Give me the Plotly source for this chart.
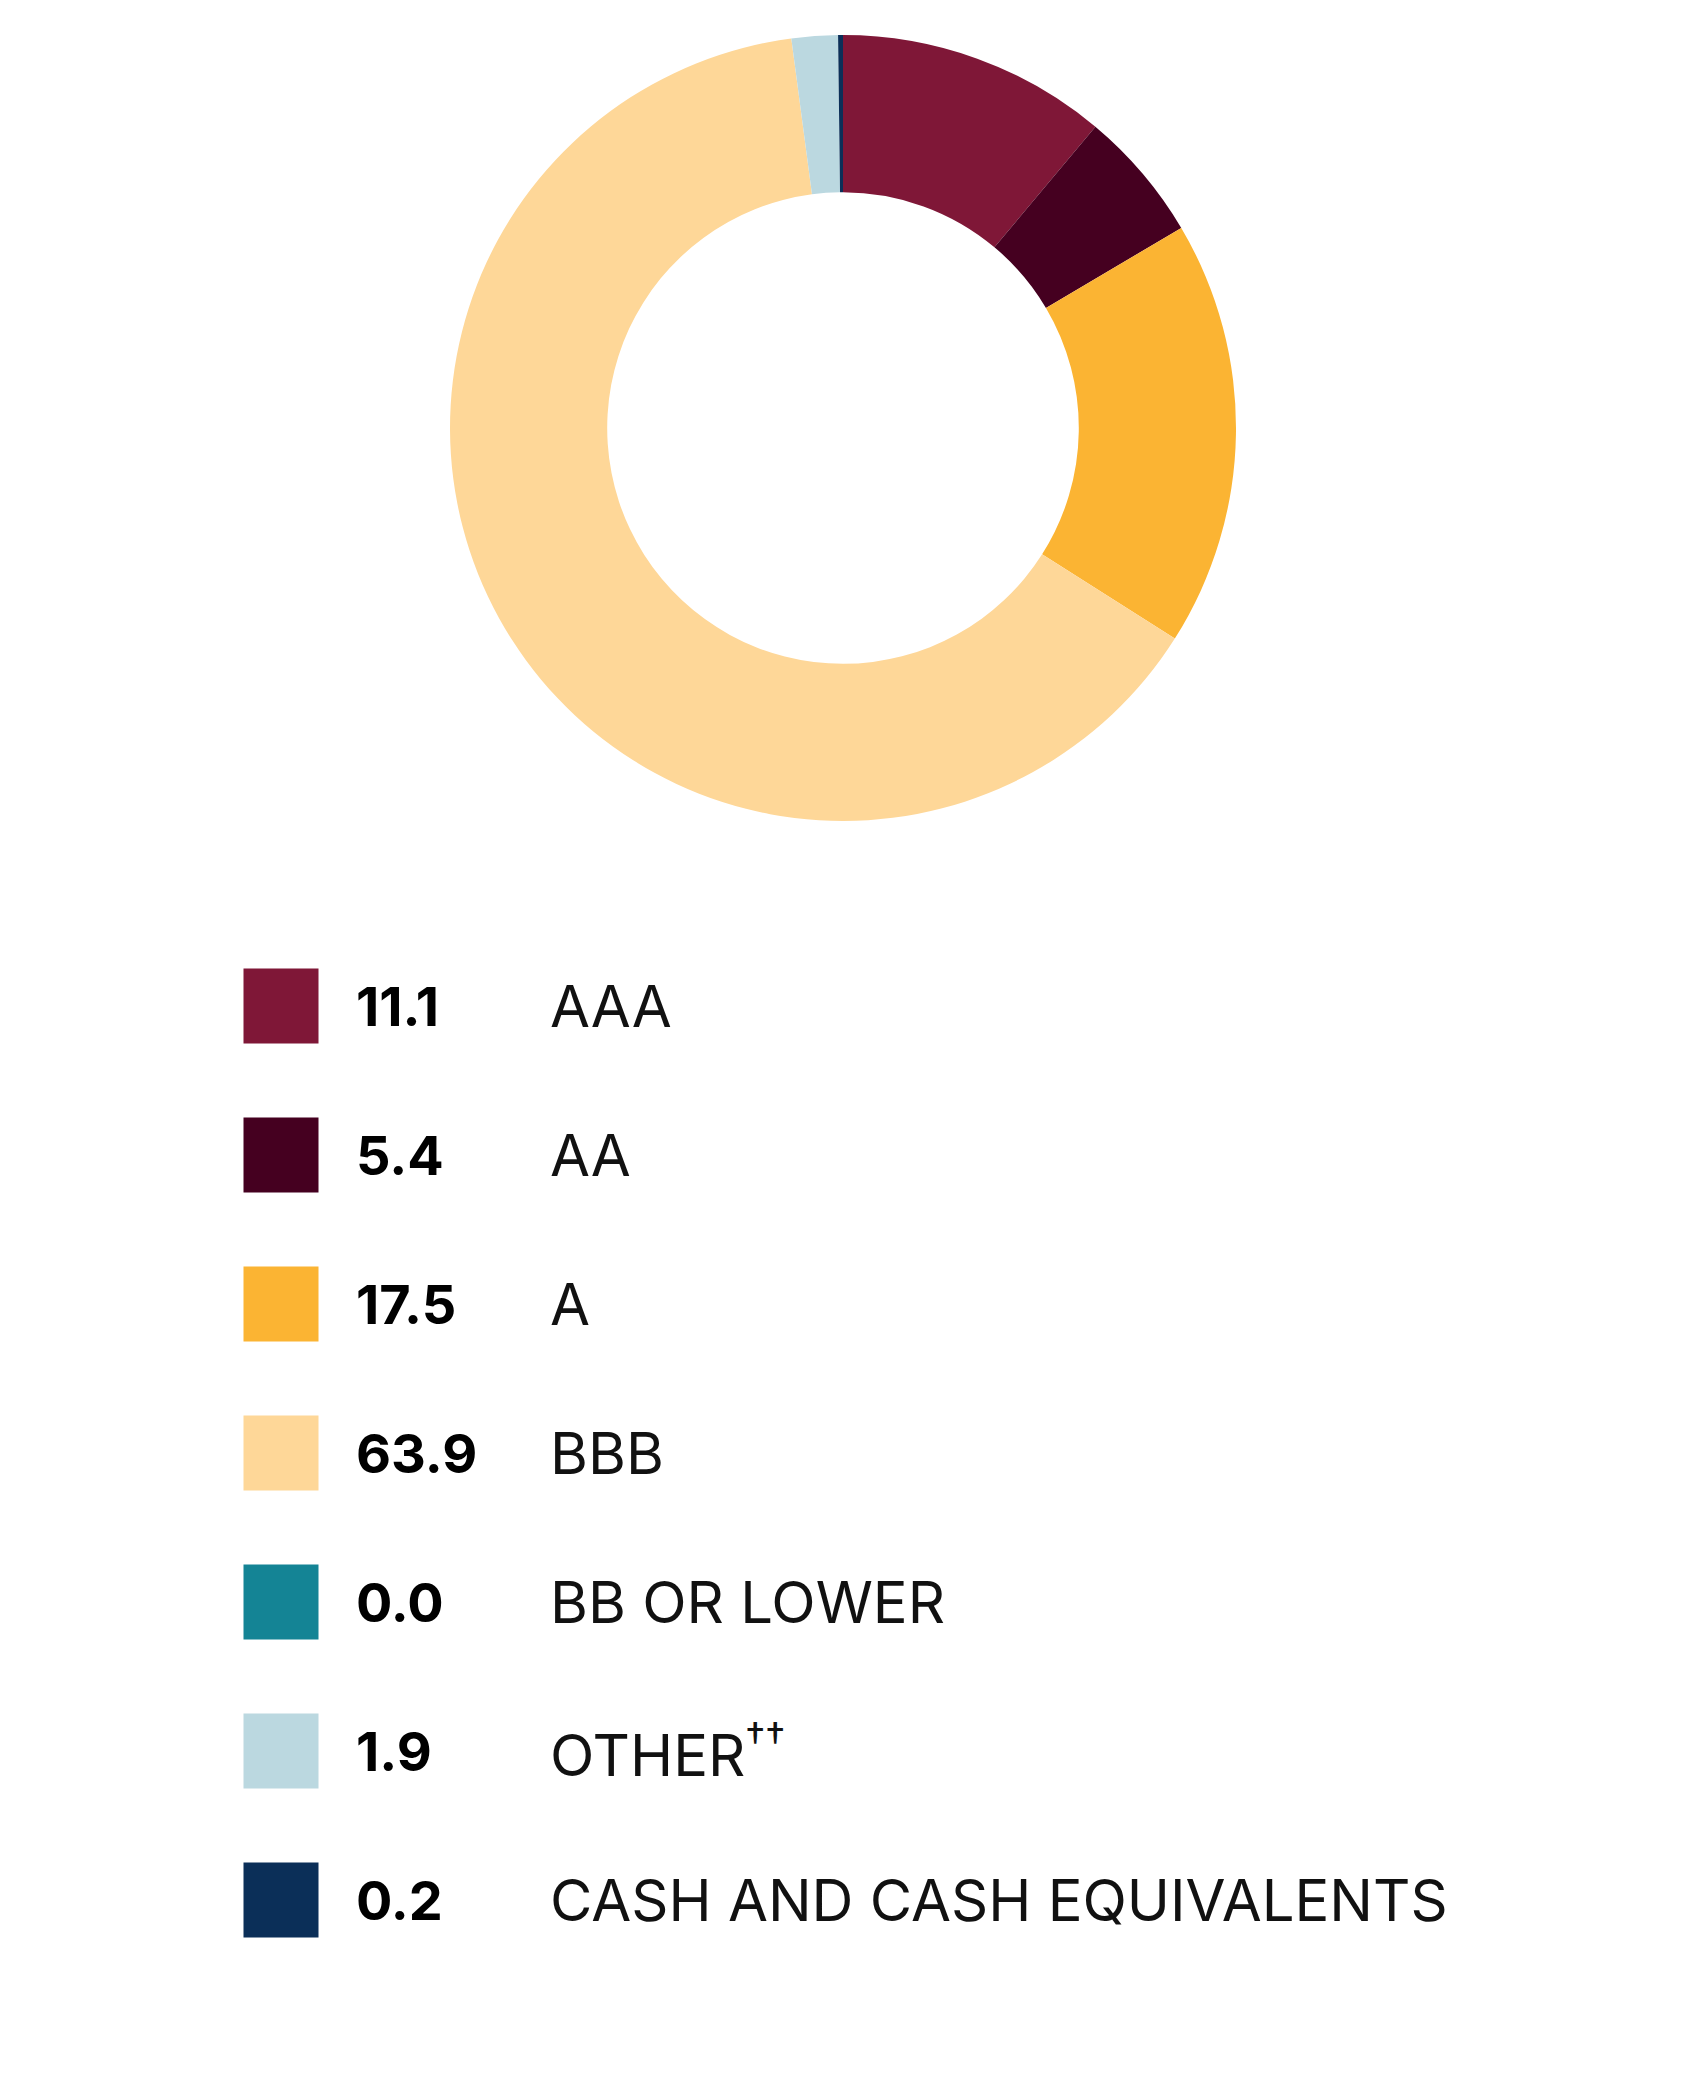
import plotly.graph_objects as go

W, H = 1687, 2096

ratings = ["AAA", "AA", "A", "BBB", "BB OR LOWER", "OTHER<sup>††</sup>", "CASH AND CASH EQUIVALENTS"]
values = [11.1, 5.4, 17.5, 63.9, 0.0, 1.9, 0.2]
value_labels = ["11.1", "5.4", "17.5", "63.9", "0.0", "1.9", "0.2"]
colors = ["#7F1737", "#450020", "#FBB433", "#FED798", "#148495", "#BBD8E0", "#0B2F58"]

# donut geometry (px)
cx, cy, r = 843, 428, 393
# legend rows (px)
row0, row_gap = 1006, 149
sq_x, num_x, lab_x = 281, 354, 548

fig = go.Figure()
fig.add_trace(go.Pie(
    labels=ratings, values=values, marker=dict(colors=colors, line=dict(width=0)),
    hole=0.6, sort=False, direction="clockwise", rotation=0,
    textinfo="none", hoverinfo="label+value", showlegend=False,
    domain=dict(x=[(cx - r) / W, (cx + r) / W],
                y=[(H - cy - r) / H, (H - cy + r) / H]),
))

rows = list(range(len(ratings)))
fig.add_trace(go.Scatter(
    x=[sq_x] * len(rows), y=rows, mode="markers",
    marker=dict(symbol="square", size=75, color=colors, line=dict(width=0)),
    hoverinfo="skip", showlegend=False,
))

for i in rows:
    fig.add_annotation(x=num_x, y=i, text="<b>" + value_labels[i] + "</b>", showarrow=False,
                       xanchor="left", yanchor="middle",
                       font=dict(family="Inter", size=54, color="#000000"))
    fig.add_annotation(x=lab_x, y=i, text=ratings[i], showarrow=False,
                       xanchor="left", yanchor="middle",
                       font=dict(family="Inter", size=58, color="#111111"))

y_top = -row0 / row_gap
y_bot = (H - row0) / row_gap
fig.update_xaxes(range=[0, W], visible=False, fixedrange=True)
fig.update_yaxes(range=[y_bot, y_top], visible=False, fixedrange=True)
fig.update_layout(
    width=W, height=H,
    margin=dict(l=0, r=0, t=0, b=0),
    paper_bgcolor="white", plot_bgcolor="white",
    showlegend=False,
)
fig.write_html("out.html", config={"displayModeBar": False},
               post_script="document.body.style.margin='0';")
